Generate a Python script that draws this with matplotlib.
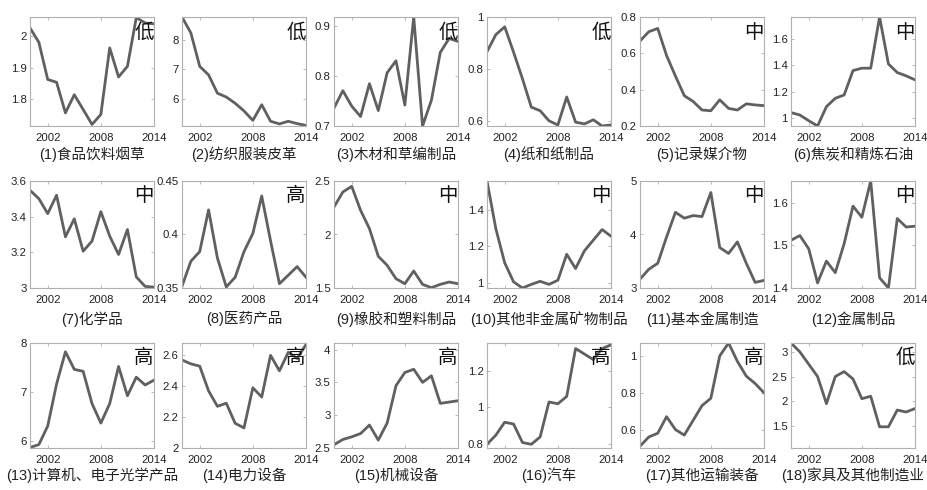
import matplotlib
matplotlib.use('Agg')
import matplotlib.pyplot as plt
from matplotlib.ticker import FormatStrFormatter
import numpy as np

plt.rcParams['font.family'] = ['Liberation Sans', 'Noto Sans CJK SC']

years = np.arange(2000, 2015)

names = ['(1)食品饮料烟草', '(2)纺织服装皮革', '(3)木材和草编制品', '(4)纸和纸制品',
         '(5)记录媒介物', '(6)焦炭和精炼石油', '(7)化学品', '(8)医药产品',
         '(9)橡胶和塑料制品', '(10)其他非金属矿物制品', '(11)基本金属制造', '(12)金属制品',
         '(13)计算机、电子光学产品', '(14)电力设备', '(15)机械设备', '(16)汽车',
         '(17)其他运输装备', '(18)家具及其他制造业']
levels = ['低', '低', '低', '低', '中', '中',
          '中', '高', '中', '中', '中', '中',
          '高', '高', '高', '高', '高', '低']

s1 = [2.027, 1.981, 1.862, 1.853, 1.755, 1.813, 1.766, 1.718, 1.75, 1.963, 1.870, 1.904, 2.06, 2.043, 2.04]
s2 = [8.77, 8.23, 7.10, 6.81, 6.19, 6.06, 5.85, 5.59, 5.27, 5.80, 5.24, 5.15, 5.24, 5.16, 5.10]
s3 = [0.736, 0.771, 0.740, 0.719, 0.785, 0.731, 0.807, 0.831, 0.742, 0.919, 0.70, 0.752, 0.848, 0.876, 0.870]
s4 = [0.866, 0.932, 0.962, 0.864, 0.762, 0.652, 0.638, 0.599, 0.583, 0.691, 0.594, 0.587, 0.603, 0.579, 0.583]
s5 = [0.668, 0.719, 0.737, 0.588, 0.475, 0.367, 0.335, 0.288, 0.284, 0.344, 0.297, 0.288, 0.322, 0.316, 0.312]
s6 = [1.043, 1.025, 0.982, 0.942, 1.088, 1.151, 1.176, 1.36, 1.378, 1.378, 1.764, 1.41, 1.345, 1.32, 1.29]
s7 = [3.548, 3.501, 3.417, 3.52, 3.287, 3.388, 3.206, 3.263, 3.428, 3.291, 3.188, 3.328, 3.062, 3.009, 3.005]
s8 = [0.3516, 0.375, 0.384, 0.423, 0.378, 0.351, 0.360, 0.384, 0.401, 0.436, 0.394, 0.354, 0.362, 0.370, 0.360]
s9 = [2.257, 2.397, 2.45, 2.226, 2.055, 1.796, 1.712, 1.587, 1.54, 1.659, 1.534, 1.503, 1.534, 1.556, 1.54]
s10 = [1.563, 1.298, 1.109, 1.004, 0.97, 0.99, 1.007, 0.99, 1.013, 1.157, 1.078, 1.176, 1.235, 1.294, 1.257]
s11 = [3.166, 3.351, 3.462, 3.954, 4.415, 4.305, 4.354, 4.335, 4.785, 3.757, 3.646, 3.862, 3.462, 3.105, 3.142]
s12 = [1.512, 1.523, 1.492, 1.412, 1.463, 1.436, 1.504, 1.592, 1.566, 1.651, 1.424, 1.40, 1.563, 1.543, 1.545]
s13 = [5.86, 5.92, 6.3, 7.16, 7.82, 7.46, 7.42, 6.76, 6.36, 6.76, 7.52, 6.92, 7.3, 7.14, 7.24]
s14 = [2.57, 2.545, 2.53, 2.37, 2.27, 2.29, 2.16, 2.13, 2.39, 2.33, 2.6, 2.5, 2.62, 2.58, 2.67]
s15 = [2.55, 2.63, 2.67, 2.72, 2.85, 2.62, 2.88, 3.45, 3.65, 3.7, 3.5, 3.6, 3.18, 3.2, 3.22]
s16 = [0.8, 0.85, 0.92, 0.91, 0.81, 0.80, 0.84, 1.03, 1.02, 1.06, 1.32, 1.29, 1.26, 1.32, 1.34]
s17 = [0.51, 0.56, 0.58, 0.67, 0.6, 0.57, 0.65, 0.73, 0.77, 1.0, 1.07, 0.97, 0.89, 0.85, 0.8]
s18 = [3.18, 3.0, 2.75, 2.5, 1.95, 2.5, 2.6, 2.45, 2.05, 2.1, 1.48, 1.48, 1.82, 1.78, 1.85]
series = [s1, s2, s3, s4, s5, s6, s7, s8, s9, s10, s11, s12, s13, s14, s15, s16, s17, s18]

ylims = [(1.713, 2.062), (5.08, 8.77), (0.7, 0.919), (0.579, 1.0), (0.2, 0.8), (0.942, 1.764),
         (3, 3.6), (0.35, 0.45), (1.5, 2.5), (0.97, 1.563), (3, 5), (1.4, 1.651),
         (5.85, 8), (2, 2.68), (2.5, 4.1), (0.78, 1.35), (0.5, 1.07), (1.05, 3.18)]
yticks = [[1.8, 1.9, 2], [6, 7, 8], [0.7, 0.8, 0.9], [0.6, 0.8, 1], [0.2, 0.4, 0.6, 0.8], [1, 1.2, 1.4, 1.6],
          [3, 3.2, 3.4, 3.6], [0.35, 0.4, 0.45], [1.5, 2, 2.5], [1, 1.2, 1.4], [3, 4, 5], [1.4, 1.5, 1.6],
          [6, 7, 8], [2, 2.2, 2.4, 2.6], [2.5, 3, 3.5, 4], [0.8, 1, 1.2], [0.6, 0.8, 1], [1.5, 2, 2.5, 3]]
xticks = [2002, 2008, 2014]

W, H = 928, 490
fig = plt.figure(figsize=(W / 100, H / 100), dpi=100)
fig.patch.set_facecolor('white')

# axes boxes in pixels, measured from the top-left of the picture
lefts = [30, 182, 334, 487, 640, 791]
tops = [17, 181, 343]
heights = [109, 107, 105]
title_gap = [28, 31, 27]
aw = 124

for i in range(18):
    r, c = divmod(i, 6)
    ah = heights[r]
    ax = fig.add_axes([lefts[c] / W, (H - tops[r] - ah) / H, aw / W, ah / H])
    ax.plot(years, series[i], color='#606060', lw=2.0)
    ax.set_xlim(2000, 2014)
    ax.set_ylim(*ylims[i])
    ax.set_xticks(xticks)
    ax.set_yticks(yticks[i])
    ax.yaxis.set_major_formatter(FormatStrFormatter('%g'))
    ax.tick_params(direction='in', length=2.5, width=0.6, color='#b0b0b0',
                   labelsize=8.2, labelcolor='#222222', top=True, right=True)
    ax.tick_params(axis='x', pad=5)
    ax.tick_params(axis='y', pad=2.5)
    for sp in ax.spines.values():
        sp.set_color('#b0b0b0')
        sp.set_linewidth(0.8)
    ax.text(0.92, 0.86, levels[i], transform=ax.transAxes, ha='center', va='center',
            fontsize=14, family=['Noto Sans CJK SC'], fontweight='light', color='#111111')
    ax.annotate(names[i], xy=(0.5, 0), xycoords='axes fraction',
                xytext=(0, -title_gap[r]), textcoords='offset pixels',
                ha='center', va='center', fontsize=10.5, color='#222222')

fig.savefig('out.png', dpi=100)
